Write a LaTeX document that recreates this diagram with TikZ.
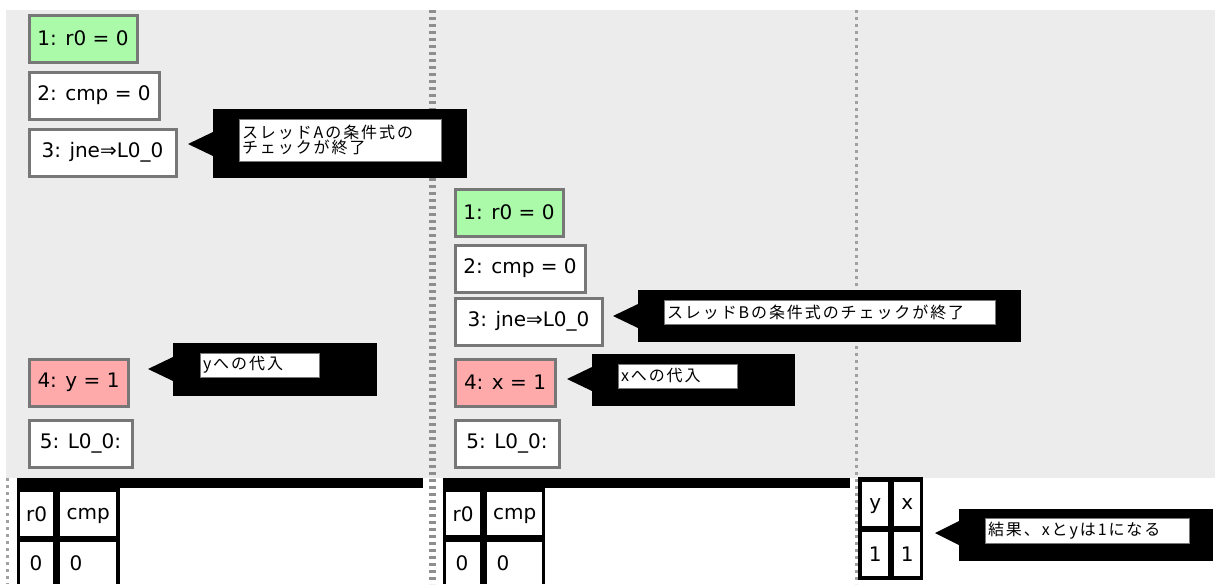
\documentclass[tikz,border=0pt]{standalone}
\usepackage{fontspec}
\setmainfont{DejaVu Sans}
\newfontfamily\jp[LetterSpace=12]{Noto Sans CJK JP}
\definecolor{bg}{HTML}{ECECEC}
\definecolor{grn}{HTML}{AAFAAA}
\definecolor{pnk}{HTML}{FFAAAA}
\definecolor{bord}{HTML}{777777}
\definecolor{dotc}{HTML}{8E8E8E}
\definecolor{dotl}{HTML}{A0A0A0}
\tikzset{
  instr/.style={draw=bord, line width=3pt, fill=white, anchor=north west,
    inner xsep=6pt, minimum height=47pt, font=\fontsize{20}{23}\selectfont},
  calloutbox/.style={fill=black, anchor=north west, inner sep=0pt},
  notebox/.style={draw=bord, line width=1pt, fill=white, anchor=north west,
    inner xsep=3pt, inner ysep=0pt, align=left,
    font=\jp\fontsize{16}{15.5}\selectfont},
  cell/.style={fill=white, anchor=north west, inner sep=0pt, text depth=0pt,
    font=\fontsize{20}{23}\selectfont},
  tablebg/.style={fill=black},
  widedash/.style={draw=dotc, line width=7pt, dash pattern=on 3pt off 4pt},
  thindot/.style={draw=dotl, line width=3pt, dash pattern=on 3pt off 4pt},
}
\begin{document}
\begin{tikzpicture}[x=1pt,y=-1pt]
\useasboundingbox (0,0) rectangle (1215,584);
\fill[white] (0,0) rectangle (1215,584);
\fill[bg] (6,10) rectangle (1215,478);

% separators
\draw[widedash] (432.5,10) -- (432.5,584);
\draw[thindot] (856,10) -- (856,584);
\draw[thindot] (7.5,478) -- (7.5,584);

% ---------- thread A ----------
\node[instr, fill=grn, minimum width=108pt] (a1) at (27.5,13.5) {1: r0 = 0};
\node[instr, minimum width=130pt] (a2) at (27.5,70.5) {2: cmp = 0};
\node[instr, minimum width=147pt] (a3) at (27.5,127.5) {3: jne⇒L0\_0};
\node[instr, fill=pnk, minimum width=99pt] (a4) at (27.5,357.5) {4: y = 1};
\node[instr, minimum width=103pt] (a5) at (27.5,418.5) {5: L0\_0:};

% callout A3
\node[calloutbox, minimum width=254pt, minimum height=69pt] (ca3) at (213,109) {};
\coordinate (ta3) at (188,144);
\fill[black] (ta3) -- (213,132) -- (213,156) -- cycle;
\node[notebox, minimum width=202pt, minimum height=42pt, text width=196pt] (na3) at (238.5,118.5)
  {スレッドAの条件式の\\チェックが終了};

% callout A4
\node[calloutbox, minimum width=204pt, minimum height=53pt] (ca4) at (173,343) {};
\coordinate (ta4) at (148,369);
\fill[black] (ta4) -- (173,357) -- (173,381) -- cycle;
\node[notebox, minimum width=119pt, minimum height=24pt, text width=113pt] (na4) at (199.5,352.5)
  {yへの代入};

% ---------- thread B ----------
\node[instr, fill=grn, minimum width=108pt] (b1) at (453.5,187.5) {1: r0 = 0};
\node[instr, minimum width=130pt] (b2) at (453.5,243.5) {2: cmp = 0};
\node[instr, minimum width=147pt] (b3) at (453.5,296.5) {3: jne⇒L0\_0};
\node[instr, fill=pnk, minimum width=100pt] (b4) at (453.5,357.5) {4: x = 1};
\node[instr, minimum width=104pt] (b5) at (453.5,418.5) {5: L0\_0:};

% callout B3
\node[calloutbox, minimum width=383pt, minimum height=52pt] (cb3) at (638,290) {};
\coordinate (tb3) at (613,316);
\fill[black] (tb3) -- (638,304) -- (638,328) -- cycle;
\node[notebox, minimum width=331pt, minimum height=24pt, text width=325pt] (nb3) at (663.5,299.5)
  {スレッドBの条件式のチェックが終了};

% callout B4
\node[calloutbox, minimum width=203pt, minimum height=52pt] (cb4) at (592,354) {};
\coordinate (tb4) at (567,379);
\fill[black] (tb4) -- (592,367) -- (592,391) -- cycle;
\node[notebox, minimum width=119pt, minimum height=24pt, text width=113pt] (nb4) at (617.5,363.5)
  {xへの代入};

% ---------- registers A ----------
\fill[tablebg] (17,478) rectangle (423,488);
\fill[tablebg] (17,488) rectangle (120,584);
\node[cell, minimum width=33pt, minimum height=44pt] (ar0) at (20,492) {r0};
\node[cell, minimum width=56pt, minimum height=44pt] (acmp) at (60,492) {cmp};
\node[cell, minimum width=33pt, minimum height=42pt, text width=26pt, align=left] (ar0v) at (20,542) {\hspace*{6pt}0};
\node[cell, minimum width=56pt, minimum height=42pt, text width=49pt, align=left] (acmpv) at (60,542) {\hspace*{6pt}0};

% ---------- registers B ----------
\fill[tablebg] (443,478) rectangle (850,488);
\fill[tablebg] (443,488) rectangle (545,584);
\node[cell, minimum width=34pt, minimum height=43pt] (br0) at (446,492) {r0};
\node[cell, minimum width=55pt, minimum height=43pt] (bcmp) at (487,492) {cmp};
\node[cell, minimum width=34pt, minimum height=42pt, text width=27pt, align=left] (br0v) at (446,542) {\hspace*{6pt}0};
\node[cell, minimum width=55pt, minimum height=42pt, text width=48pt, align=left] (bcmpv) at (487,542) {\hspace*{6pt}0};

% ---------- memory ----------
\fill[tablebg] (858,477) rectangle (923,580);
\node[cell, minimum width=26pt, minimum height=44pt] (my) at (862,482) {y};
\node[cell, minimum width=26pt, minimum height=44pt] (mx) at (894,482) {x};
\node[cell, minimum width=26pt, minimum height=44pt] (my1) at (862,532) {1};
\node[cell, minimum width=26pt, minimum height=44pt] (mx1) at (894,532) {1};

% result callout
\node[calloutbox, minimum width=254pt, minimum height=52pt] (cr) at (959,509) {};
\coordinate (tr) at (935,533);
\fill[black] (tr) -- (959,521) -- (959,545) -- cycle;
\node[notebox, minimum width=204pt, minimum height=25pt, text width=198pt] (nr) at (984.5,517.5)
  {結果、xとyは1になる};
\end{tikzpicture}
\end{document}
